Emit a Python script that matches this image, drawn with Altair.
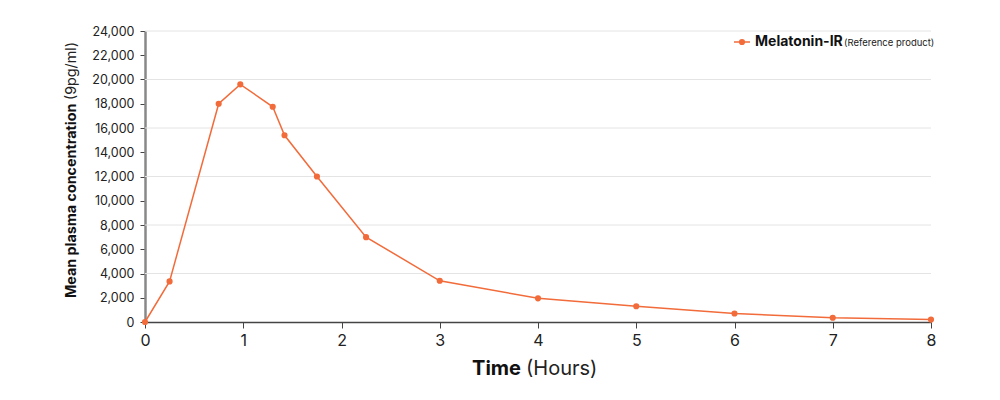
import altair as alt
import pandas as pd

# Data
time_h = [0, 0.25, 0.75, 0.97, 1.3, 1.42, 1.75, 2.25, 3, 4, 5, 6, 7, 8]
conc = [0, 3350, 18000, 19600, 17750, 15400, 12000, 7000, 3400, 1950, 1300, 700, 350, 200]
y_tick_values = list(range(0, 24001, 2000))
grid_values = [4000, 8000, 12000, 16000, 20000, 24000]
x_tick_values = [0, 1, 2, 3, 4, 5, 6, 7, 8]
series_name = "Melatonin-IR"
series_note = "(Reference product)"
y_title_bold = "Mean plasma concentration"
y_title_rest = "(9pg/ml)"
x_title_bold = "Time"
x_title_rest = "(Hours)"

COLOR = "#F26B3A"
FONT = "Inter"

df = pd.DataFrame({"time": time_h, "conc": conc})
grid_df = pd.DataFrame({"conc": grid_values})
one = pd.DataFrame({"a": [0]})

xscale = alt.Scale(domain=[0, 8], nice=False)
yscale = alt.Scale(domain=[0, 24000], nice=False)

yaxis = alt.Axis(values=y_tick_values, title=None, grid=False,
                 labelFontSize=12.5, labelColor="#222", labelFont=FONT,
                 domainColor="#888", domainWidth=2.5, tickColor="#444",
                 tickSize=5, labelPadding=6, format=",.0f")
xaxis = alt.Axis(values=x_tick_values, title=None, grid=False,
                 labelFontSize=16, labelColor="#222", labelFont=FONT,
                 domainColor="#444", domainWidth=1.5, tickColor="#444",
                 tickSize=6, labelPadding=4, format="d", labelFlush=False)

grid = alt.Chart(grid_df).mark_rule(color="#e4e4e4", strokeWidth=1).encode(
    y=alt.Y("conc:Q", scale=yscale, axis=yaxis)
)

base = alt.Chart(df).encode(
    x=alt.X("time:Q", scale=xscale, axis=xaxis),
    y=alt.Y("conc:Q", scale=yscale, axis=yaxis),
)
line = base.mark_line(color=COLOR, strokeWidth=1.5)
pts = base.mark_circle(color=COLOR, size=38, opacity=1)

ytb = alt.Chart(one).mark_text(text=y_title_bold, angle=270, align="left", baseline="middle",
                               font=FONT, fontSize=14.3, fontWeight="bold", color="#111").encode(
    x=alt.value(-73), y=alt.value(267))
ytr = alt.Chart(one).mark_text(text=y_title_rest, angle=270, align="left", baseline="middle",
                               font=FONT, fontSize=14.3, color="#222").encode(
    x=alt.value(-73), y=alt.value(69))

xtb = alt.Chart(one).mark_text(text=x_title_bold, align="right", baseline="middle",
                               font=FONT, fontSize=20, fontWeight="bold", color="#111").encode(
    x=alt.value(376), y=alt.value(338))
xtr = alt.Chart(one).mark_text(text=x_title_rest, align="left", baseline="middle",
                               font=FONT, fontSize=20, color="#222").encode(
    x=alt.value(381), y=alt.value(338))

leg_line = alt.Chart(one).mark_rule(color=COLOR, strokeWidth=1.5).encode(
    x=alt.value(589), x2=alt.value(605), y=alt.value(11))
leg_pt = alt.Chart(one).mark_circle(color=COLOR, size=38, opacity=1).encode(
    x=alt.value(597), y=alt.value(11))
leg_t1 = alt.Chart(one).mark_text(text=series_name, align="left", baseline="middle",
                                  font=FONT, fontSize=14, fontWeight="bold", color="#111").encode(
    x=alt.value(610), y=alt.value(11))
leg_t2 = alt.Chart(one).mark_text(text=series_note, align="left", baseline="middle",
                                  font=FONT, fontSize=9.5, color="#222").encode(
    x=alt.value(699), y=alt.value(12))

chart = alt.layer(grid, line, pts, ytb, ytr, xtb, xtr, leg_line, leg_pt, leg_t1, leg_t2).properties(
    width=786, height=291,
    autosize=alt.AutoSizeParams(type="none"),
    padding={"left": 137, "top": 23, "right": 61, "bottom": 70},
).configure_view(stroke=None)

chart.save("out.html", embed_options={"renderer": "svg", "actions": False})
